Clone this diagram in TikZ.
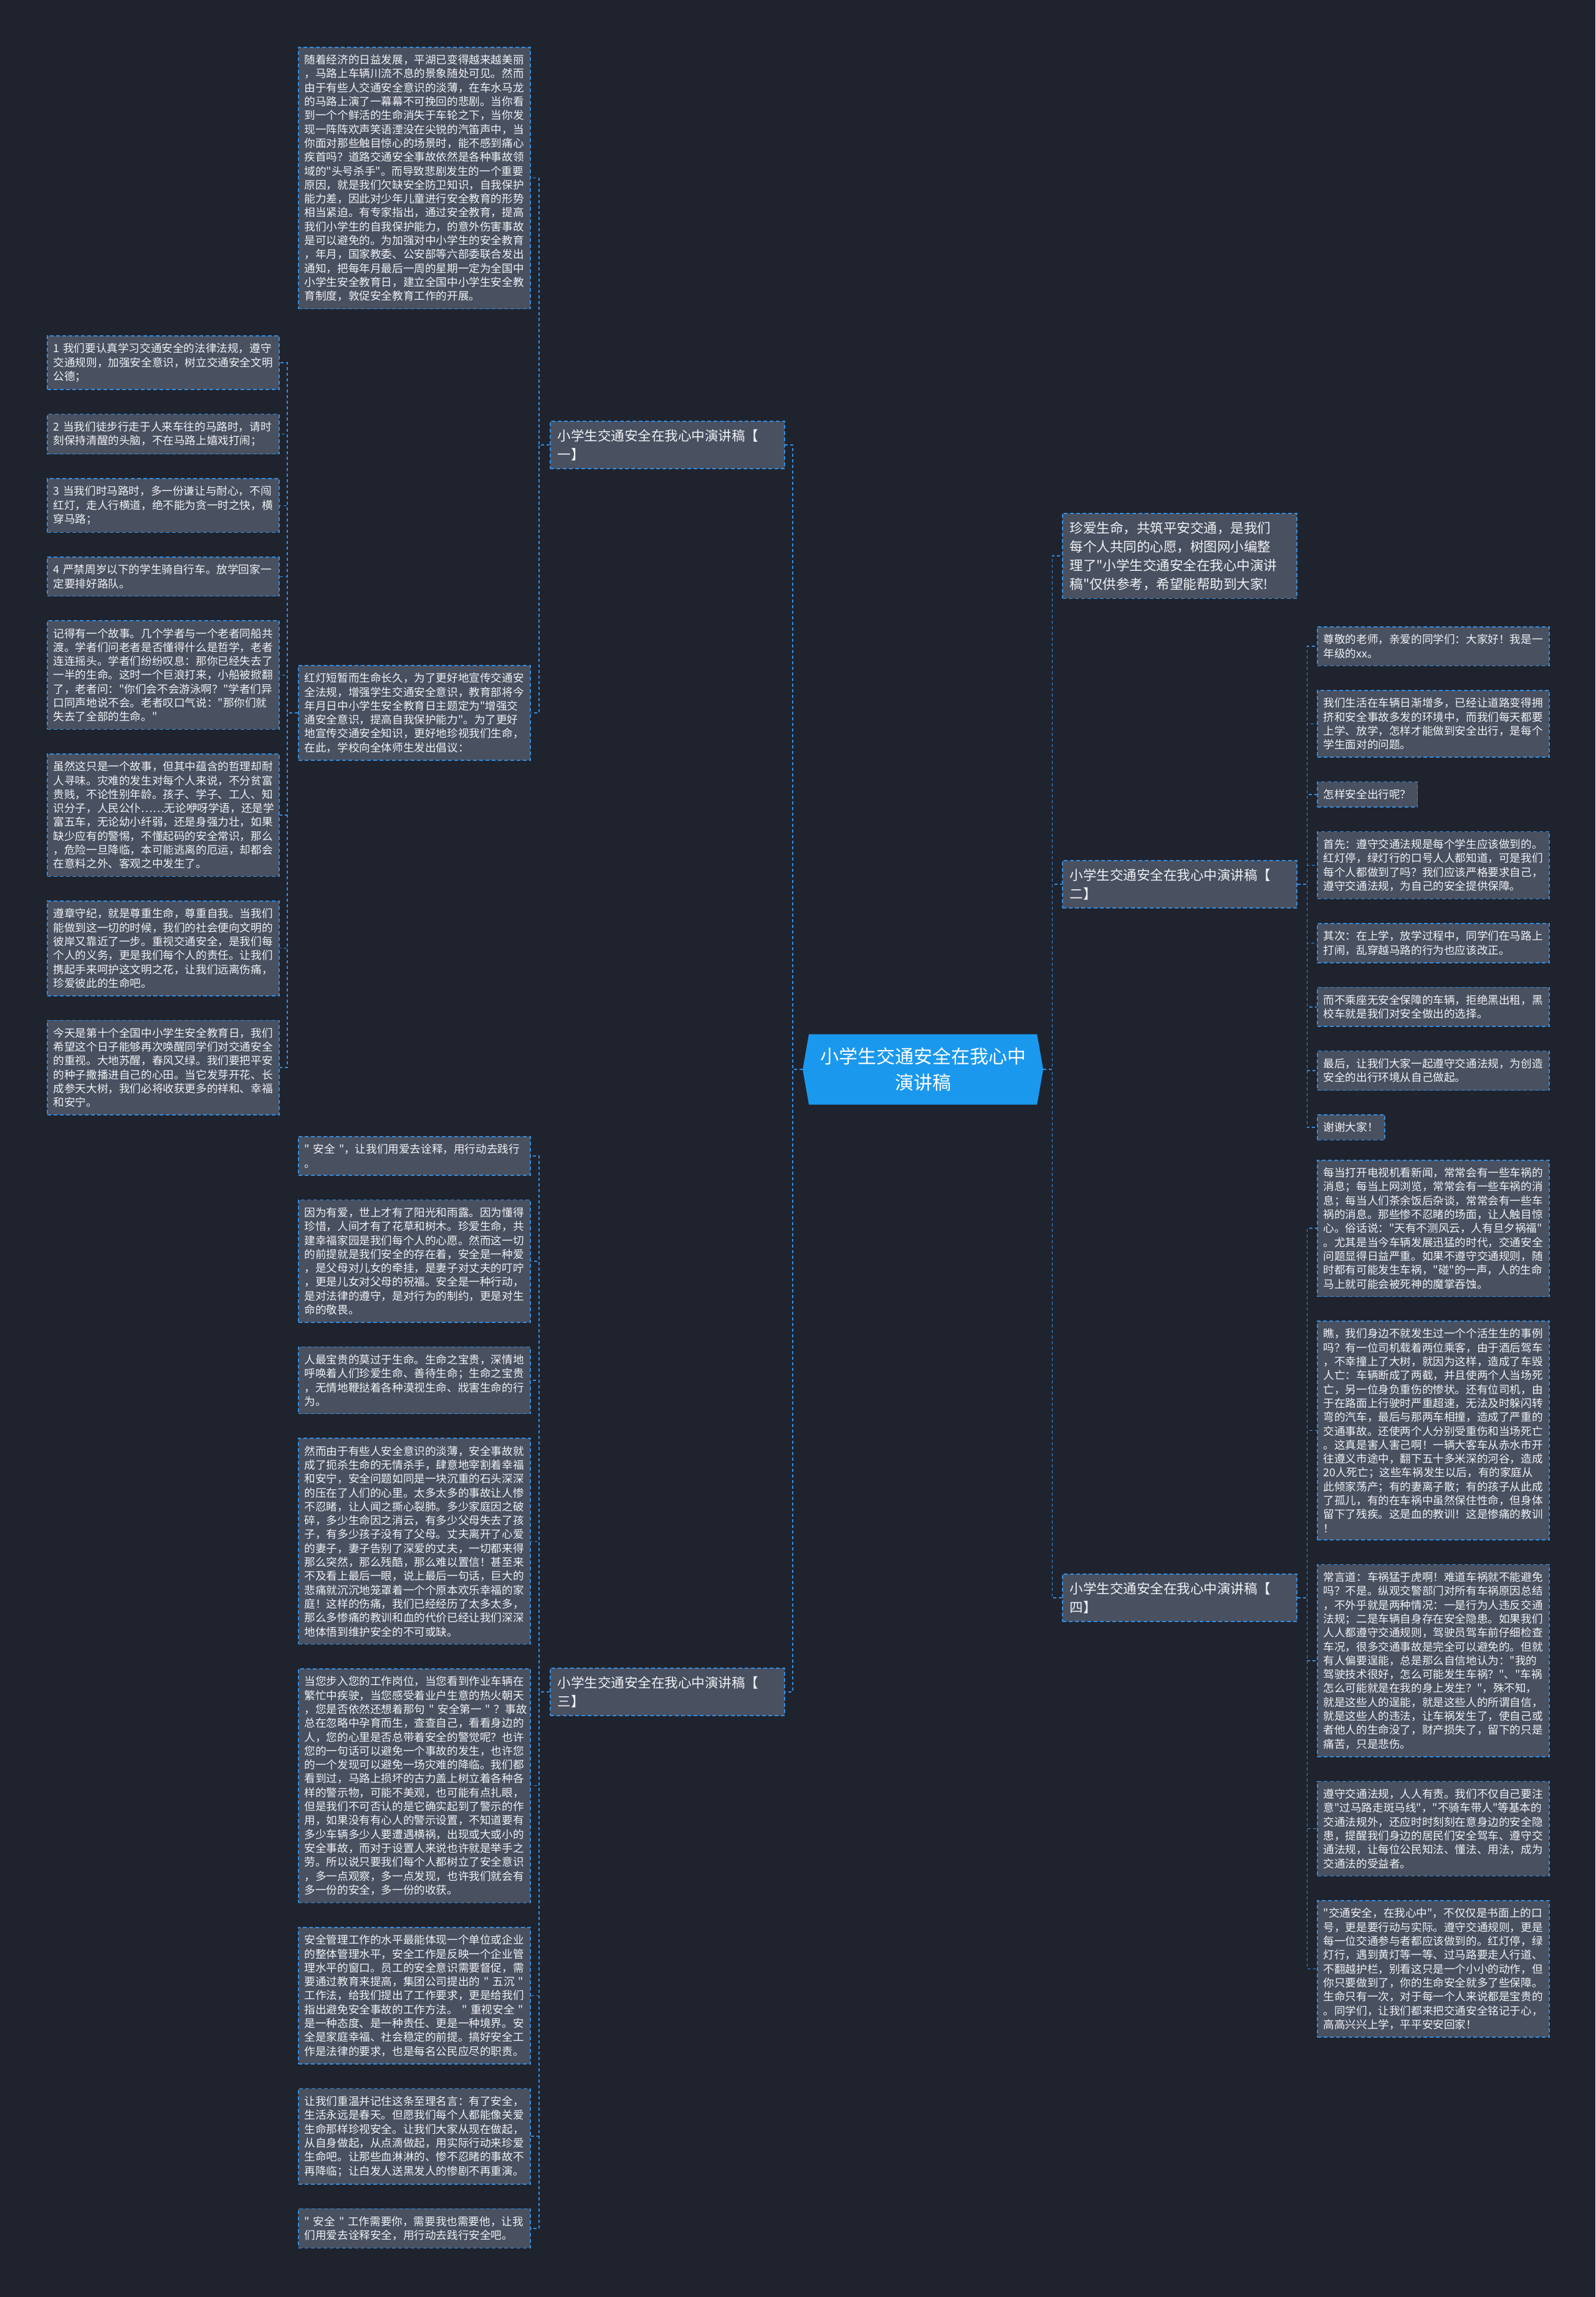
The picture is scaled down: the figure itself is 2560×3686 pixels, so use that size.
\documentclass[tikz,border=0pt]{standalone}
\usepackage{fontspec}
\usepackage{tikz}
\usetikzlibrary{positioning, shapes.symbols}
\newfontfamily\cjk{Noto Sans CJK SC}
\definecolor{bgdark}{RGB}{31,35,46}
\definecolor{boxfill}{RGB}{73,80,96}
\definecolor{linkblue}{RGB}{52,140,220}
\definecolor{rootblue}{RGB}{26,152,238}
\definecolor{textwhite}{RGB}{240,242,245}

\begin{document}
\begin{tikzpicture}[
  x=1pt, y=1pt,
  leafbox/.style={draw=linkblue, line width=1.5pt, dash pattern=on 6pt off 4pt, fill=boxfill, text=textwhite, font=\cjk\fontsize{17.6pt}{22.3pt}\selectfont, align=left, inner xsep=10pt, inner ysep=12pt, anchor=north west},
  leaf/.style={leafbox, text width=352pt},
  branch/.style={leafbox, text width=352pt, font=\cjk\fontsize{21.5pt}{30pt}\selectfont, inner xsep=12pt, inner ysep=13pt},
  root/.style={signal, signal to=west and east, signal pointer angle=160, fill=rootblue, text=white, font=\cjk\fontsize{30pt}{42pt}\selectfont, align=center, minimum width=386pt, minimum height=113pt},
  link/.style={draw=linkblue, line width=1.4pt, dash pattern=on 5pt off 4pt}
]
\fill[bgdark] (0,0) rectangle (2560,-3686);
\useasboundingbox (0,0) rectangle (2560,-3686);

% centre and branches
\node[root] (root) at (1481,-1716) {小学生交通安全在我心中\\演讲稿};
\node[branch] (b1) at (882,-675) {小学生交通安全在我心中演讲稿【\\一】};
\node[branch] (b3) at (882,-2676) {小学生交通安全在我心中演讲稿【\\三】};
\node[branch] (intro) at (1704,-823) {珍爱生命，共筑平安交通，是我们\\每个人共同的心愿，树图网小编整\\理了"小学生交通安全在我心中演讲\\稿"仅供参考，希望能帮助到大家!};
\node[branch] (b2) at (1704,-1380) {小学生交通安全在我心中演讲稿【\\二】};
\node[branch] (b4) at (1704,-2525) {小学生交通安全在我心中演讲稿【\\四】};

% branch one
\node[leaf] (p1) at (478,-75) {随着经济的日益发展，平湖已变得越来越美丽\\，马路上车辆川流不息的景象随处可见。然而\\由于有些人交通安全意识的淡薄，在车水马龙\\的马路上演了一幕幕不可挽回的悲剧。当你看\\到一个个鲜活的生命消失于车轮之下，当你发\\现一阵阵欢声笑语湮没在尖锐的汽笛声中，当\\你面对那些触目惊心的场景时，能不感到痛心\\疾首吗？道路交通安全事故依然是各种事故领\\域的"头号杀手"。而导致悲剧发生的一个重要\\原因，就是我们欠缺安全防卫知识，自我保护\\能力差，因此对少年儿童进行安全教育的形势\\相当紧迫。有专家指出，通过安全教育，提高\\我们小学生的自我保护能力，的意外伤害事故\\是可以避免的。为加强对中小学生的安全教育\\，年月，国家教委、公安部等六部委联合发出\\通知，把每年月最后一周的星期一定为全国中\\小学生安全教育日，建立全国中小学生安全教\\育制度，敦促安全教育工作的开展。};
\node[leaf] (p2) at (478,-1067) {红灯短暂而生命长久，为了更好地宣传交通安\\全法规，增强学生交通安全意识，教育部将今\\年月日中小学生安全教育日主题定为"增强交\\通安全意识，提高自我保护能力"。为了更好\\地宣传交通安全知识，更好地珍视我们生命，\\在此，学校向全体师生发出倡议：};

\node[leaf] (a1) at (75,-538) {1~我们要认真学习交通安全的法律法规，遵守\\交通规则，加强安全意识，树立交通安全文明\\公德；};
\node[leaf, below=38pt of a1.south west, anchor=north west] (a2) {2~当我们徒步行走于人来车往的马路时，请时\\刻保持清醒的头脑，不在马路上嬉戏打闹；};
\node[leaf, below=38pt of a2.south west, anchor=north west] (a3) {3~当我们时马路时，多一份谦让与耐心，不闯\\红灯，走人行横道，绝不能为贪一时之快，横\\穿马路；};
\node[leaf, below=38pt of a3.south west, anchor=north west] (a4) {4~严禁周岁以下的学生骑自行车。放学回家一\\定要排好路队。};
\node[leaf, below=38pt of a4.south west, anchor=north west] (a5) {记得有一个故事。几个学者与一个老者同船共\\渡。学者们问老者是否懂得什么是哲学，老者\\连连摇头。学者们纷纷叹息：那你已经失去了\\一半的生命。这时一个巨浪打来，小船被掀翻\\了，老者问："你们会不会游泳啊？"学者们异\\口同声地说不会。老者叹口气说："那你们就\\失去了全部的生命。"};
\node[leaf, below=38pt of a5.south west, anchor=north west] (a6) {虽然这只是一个故事，但其中蕴含的哲理却耐\\人寻味。灾难的发生对每个人来说，不分贫富\\贵贱，不论性别年龄。孩子、学子、工人、知\\识分子，人民公仆……无论咿呀学语，还是学\\富五车，无论幼小纤弱，还是身强力壮，如果\\缺少应有的警惕，不懂起码的安全常识，那么\\，危险一旦降临，本可能逃离的厄运，却都会\\在意料之外、客观之中发生了。};
\node[leaf, below=38pt of a6.south west, anchor=north west] (a7) {遵章守纪，就是尊重生命，尊重自我。当我们\\能做到这一切的时候，我们的社会便向文明的\\彼岸又靠近了一步。重视交通安全，是我们每\\个人的义务，更是我们每个人的责任。让我们\\携起手来呵护这文明之花，让我们远离伤痛，\\珍爱彼此的生命吧。};
\node[leaf, below=38pt of a7.south west, anchor=north west] (a8) {今天是第十个全国中小学生安全教育日，我们\\希望这个日子能够再次唤醒同学们对交通安全\\的重视。大地苏醒，春风又绿。我们要把平安\\的种子撒播进自己的心田。当它发芽开花、长\\成参天大树，我们必将收获更多的祥和、幸福\\和安宁。};

% branch three
\node[leaf] (c1) at (478,-1823) {"~安全~"，让我们用爱去诠释，用行动去践行\\。};
\node[leaf, below=38pt of c1.south west, anchor=north west] (c2) {因为有爱，世上才有了阳光和雨露。因为懂得\\珍惜，人间才有了花草和树木。珍爱生命，共\\建幸福家园是我们每个人的心愿。然而这一切\\的前提就是我们安全的存在着，安全是一种爱\\，是父母对儿女的牵挂，是妻子对丈夫的叮咛\\，更是儿女对父母的祝福。安全是一种行动，\\是对法律的遵守，是对行为的制约，更是对生\\命的敬畏。};
\node[leaf, below=38pt of c2.south west, anchor=north west] (c3) {人最宝贵的莫过于生命。生命之宝贵，深情地\\呼唤着人们珍爱生命、善待生命；生命之宝贵\\，无情地鞭挞着各种漠视生命、戕害生命的行\\为。};
\node[leaf, below=38pt of c3.south west, anchor=north west] (c4) {然而由于有些人安全意识的淡薄，安全事故就\\成了扼杀生命的无情杀手，肆意地宰割着幸福\\和安宁，安全问题如同是一块沉重的石头深深\\的压在了人们的心里。太多太多的事故让人惨\\不忍睹，让人闻之撕心裂肺。多少家庭因之破\\碎，多少生命因之消云，有多少父母失去了孩\\子，有多少孩子没有了父母。丈夫离开了心爱\\的妻子，妻子告别了深爱的丈夫，一切都来得\\那么突然，那么残酷，那么难以置信！甚至来\\不及看上最后一眼，说上最后一句话，巨大的\\悲痛就沉沉地笼罩着一个个原本欢乐幸福的家\\庭！这样的伤痛，我们已经经历了太多太多，\\那么多惨痛的教训和血的代价已经让我们深深\\地体悟到维护安全的不可或缺。};
\node[leaf, below=38pt of c4.south west, anchor=north west] (c5) {当您步入您的工作岗位，当您看到作业车辆在\\繁忙中疾驶，当您感受着业户生意的热火朝天\\，您是否依然还想着那句~"~安全第一~"~？事故\\总在忽略中孕育而生，查查自己，看看身边的\\人，您的心里是否总带着安全的警觉呢？也许\\您的一句话可以避免一个事故的发生，也许您\\的一个发现可以避免一场灾难的降临。我们都\\看到过，马路上损坏的古力盖上树立着各种各\\样的警示物，可能不美观，也可能有点扎眼，\\但是我们不可否认的是它确实起到了警示的作\\用，如果没有有心人的警示设置，不知道要有\\多少车辆多少人要遭遇横祸，出现或大或小的\\安全事故，而对于设置人来说也许就是举手之\\劳。所以说只要我们每个人都树立了安全意识\\，多一点观察，多一点发现，也许我们就会有\\多一份的安全，多一份的收获。};
\node[leaf, below=38pt of c5.south west, anchor=north west] (c6) {安全管理工作的水平最能体现一个单位或企业\\的整体管理水平，安全工作是反映一个企业管\\理水平的窗口。员工的安全意识需要督促，需\\要通过教育来提高，集团公司提出的~"~五沉~"\\工作法，给我们提出了工作要求，更是给我们\\指出避免安全事故的工作方法。~"~重视安全~"\\是一种态度、是一种责任、更是一种境界。安\\全是家庭幸福、社会稳定的前提。搞好安全工\\作是法律的要求，也是每名公民应尽的职责。};
\node[leaf, below=38pt of c6.south west, anchor=north west] (c7) {让我们重温并记住这条至理名言：有了安全，\\生活永远是春天。但愿我们每个人都能像关爱\\生命那样珍视安全。让我们大家从现在做起，\\从自身做起，从点滴做起，用实际行动来珍爱\\生命吧。让那些血淋淋的、惨不忍睹的事故不\\再降临；让白发人送黑发人的惨剧不再重演。};
\node[leaf, below=38pt of c7.south west, anchor=north west] (c8) {"~安全~"~工作需要你，需要我也需要他，让我\\们用爱去诠释安全，用行动去践行安全吧。};

% branch two
\node[leaf] (d1) at (2113,-1005) {尊敬的老师，亲爱的同学们：大家好！我是一\\年级的xx。};
\node[leaf, below=38pt of d1.south west, anchor=north west] (d2) {我们生活在车辆日渐增多，已经让道路变得拥\\挤和安全事故多发的环境中，而我们每天都要\\上学、放学，怎样才能做到安全出行，是每个\\学生面对的问题。};
\node[leafbox, below=38pt of d2.south west, anchor=north west] (d3) {怎样安全出行呢？};
\node[leaf, below=38pt of d3.south west, anchor=north west] (d4) {首先：遵守交通法规是每个学生应该做到的。\\红灯停，绿灯行的口号人人都知道，可是我们\\每个人都做到了吗？我们应该严格要求自己，\\遵守交通法规，为自己的安全提供保障。};
\node[leaf, below=38pt of d4.south west, anchor=north west] (d5) {其次：在上学，放学过程中，同学们在马路上\\打闹，乱穿越马路的行为也应该改正。};
\node[leaf, below=38pt of d5.south west, anchor=north west] (d6) {而不乘座无安全保障的车辆，拒绝黑出租，黑\\校车就是我们对安全做出的选择。};
\node[leaf, below=38pt of d6.south west, anchor=north west] (d7) {最后，让我们大家一起遵守交通法规，为创造\\安全的出行环境从自己做起。};
\node[leafbox, below=38pt of d7.south west, anchor=north west] (d8) {谢谢大家！};

% branch four
\node[leaf] (e1) at (2113,-1861) {每当打开电视机看新闻，常常会有一些车祸的\\消息；每当上网浏览，常常会有一些车祸的消\\息；每当人们茶余饭后杂谈，常常会有一些车\\祸的消息。那些惨不忍睹的场面，让人触目惊\\心。俗话说："天有不测风云，人有旦夕祸福"\\。尤其是当今车辆发展迅猛的时代，交通安全\\问题显得日益严重。如果不遵守交通规则，随\\时都有可能发生车祸，"碰"的一声，人的生命\\马上就可能会被死神的魔掌吞蚀。};
\node[leaf, below=38pt of e1.south west, anchor=north west] (e2) {瞧，我们身边不就发生过一个个活生生的事例\\吗？有一位司机载着两位乘客，由于酒后驾车\\，不幸撞上了大树，就因为这样，造成了车毁\\人亡：车辆断成了两截，并且使两个人当场死\\亡，另一位身负重伤的惨状。还有位司机，由\\于在路面上行驶时严重超速，无法及时躲闪转\\弯的汽车，最后与那两车相撞，造成了严重的\\交通事故。还使两个人分别受重伤和当场死亡\\。这真是害人害己啊！一辆大客车从赤水市开\\往遵义市途中，翻下五十多米深的河谷，造成\\20人死亡；这些车祸发生以后，有的家庭从\\此倾家荡产；有的妻离子散；有的孩子从此成\\了孤儿，有的在车祸中虽然保住性命，但身体\\留下了残疾。这是血的教训！这是惨痛的教训\\！};
\node[leaf, below=38pt of e2.south west, anchor=north west] (e3) {常言道：车祸猛于虎啊！难道车祸就不能避免\\吗？不是。纵观交警部门对所有车祸原因总结\\，不外乎就是两种情况：一是行为人违反交通\\法规；二是车辆自身存在安全隐患。如果我们\\人人都遵守交通规则，驾驶员驾车前仔细检查\\车况，很多交通事故是完全可以避免的。但就\\有人偏要逞能，总是那么自信地认为："我的\\驾驶技术很好，怎么可能发生车祸？"、"车祸\\怎么可能就是在我的身上发生？"，殊不知，\\就是这些人的逞能，就是这些人的所谓自信，\\就是这些人的违法，让车祸发生了，使自己或\\者他人的生命没了，财产损失了，留下的只是\\痛苦，只是悲伤。};
\node[leaf, below=38pt of e3.south west, anchor=north west] (e4) {遵守交通法规，人人有责。我们不仅自己要注\\意"过马路走斑马线"，"不骑车带人"等基本的\\交通法规外，还应时时刻刻在意身边的安全隐\\患，提醒我们身边的居民们安全驾车、遵守交\\通法规，让每位公民知法、懂法、用法，成为\\交通法的受益者。};
\node[leaf, below=38pt of e4.south west, anchor=north west] (e5) {"交通安全，在我心中"，不仅仅是书面上的口\\号，更是要行动与实际。遵守交通规则，更是\\每一位交通参与者都应该做到的。红灯停，绿\\灯行，遇到黄灯等一等、过马路要走人行道、\\不翻越护栏，别看这只是一个小小的动作，但\\你只要做到了，你的生命安全就多了些保障。\\生命只有一次，对于每一个人来说都是宝贵的\\。同学们，让我们都来把交通安全铭记于心，\\高高兴兴上学，平平安安回家！};

% connectors
\draw[link] (root.west) -- ++(-16,0) |- (b1.east);
\draw[link] (root.west) -- ++(-16,0) |- (b3.east);
\foreach \n in {intro,b2,b4}{\draw[link] (root.east) -- ++(14,0) |- (\n.west);}
\foreach \n in {p1,p2}{\draw[link] (b1.west) -- ++(-17,0) |- (\n.east);}
\foreach \i in {1,...,8}{\draw[link] (p2.west) -- ++(-17,0) |- (a\i.east);}
\foreach \i in {1,...,8}{\draw[link] (b3.west) -- ++(-17,0) |- (c\i.east);}
\foreach \i in {1,...,8}{\draw[link] (b2.east) -- ++(16,0) |- (d\i.west);}
\foreach \i in {1,...,5}{\draw[link] (b4.east) -- ++(16,0) |- (e\i.west);}
\end{tikzpicture}
\end{document}
